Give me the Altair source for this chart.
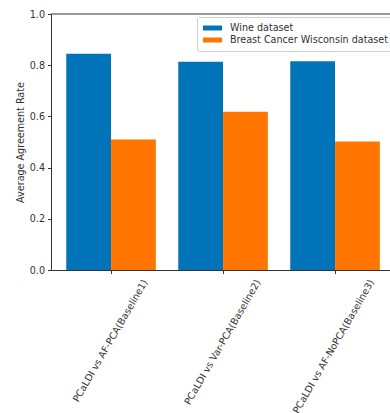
import altair as alt
import pandas as pd

# Comparison pairs (x categories) and the two datasets (bar groups)
methods = [
    "PCaLDI vs AF-PCA(Baseline1)",
    "PCaLDI vs Var-PCA(Baseline2)",
    "PCaLDI vs AF-NoPCA(Baseline3)",
]
datasets = ["Wine dataset", "Breast Cancer Wisconsin dataset"]

# Average agreement rate per comparison
wine_rates = [0.845, 0.813, 0.815]
breast_rates = [0.510, 0.618, 0.502]

y_ticks = [0.0, 0.2, 0.4, 0.6, 0.8, 1.0]
colors = ["#0174b9", "#ff7500"]

rows = []
for m, w, b in zip(methods, wine_rates, breast_rates):
    rows.append({"method": m, "dataset": datasets[0], "rate": w})
    rows.append({"method": m, "dataset": datasets[1], "rate": b})
df = pd.DataFrame(rows)

FONT = "DejaVu Sans"
INK = "#333333"
FS = 9.6

# rotated tick labels are centred on their tick, so longer labels shift further right
label_shift = {
    "condition": [
        {"test": f"datum.value === '{methods[1]}'", "value": 31},
        {"test": f"datum.value === '{methods[2]}'", "value": 32.5},
    ],
    "value": 30,
}

y_axis = alt.Axis(
    title="Average Agreement Rate",
    values=y_ticks,
    format=".1f",
    grid=False,
    labelFont=FONT,
    labelFontSize=FS,
    labelColor=INK,
    labelPadding=3,
    tickSize=3.5,
    tickColor=INK,
    domainColor=INK,
    titleFont=FONT,
    titleFontSize=FS,
    titleFontWeight="normal",
    titleColor=INK,
    titlePadding=4,
)
y_scale = alt.Scale(domain=[0, 1], nice=False)

bars = alt.Chart(df).mark_bar().encode(
    x=alt.X(
        "method:N",
        sort=methods,
        scale=alt.Scale(paddingInner=0.2, paddingOuter=0.1134, align=0.6),
        axis=alt.Axis(
            title=None,
            labelAngle=-60,
            labelAlign="right",
            labelBaseline="top",
            labelOffset=label_shift,
            labelPadding=4,
            labelFont=FONT,
            labelFontSize=FS,
            labelColor=INK,
            labelOverlap=False,
            labelLimit=400,
            tickSize=3.5,
            tickColor=INK,
            domainColor=INK,
        ),
    ),
    xOffset=alt.XOffset(
        "dataset:N", sort=datasets, scale=alt.Scale(paddingInner=0, paddingOuter=0)
    ),
    y=alt.Y("rate:Q", scale=y_scale, axis=y_axis),
    color=alt.Color(
        "dataset:N",
        sort=datasets,
        scale=alt.Scale(domain=datasets, range=colors),
        legend=alt.Legend(
            title=None,
            orient="none",
            legendX=146,
            legendY=3,
            direction="vertical",
            # wide flat swatch: 19 x 5 px, left edge at the entry origin
            symbolType="M-1,-0.5L2.8,-0.5L2.8,0.5L-1,0.5Z",
            symbolSize=100,
            symbolStrokeWidth=0,
            labelFont=FONT,
            labelFontSize=FS,
            labelColor=INK,
            labelOffset=17,
            labelLimit=400,
            rowPadding=2,
            padding=6,
            fillColor="white",
            strokeColor="#d0d0d0",
            cornerRadius=2,
        ),
    ),
)

# top spine of the axes frame
top_edge = alt.Chart(pd.DataFrame({"rate": [1.0]})).mark_rule(
    color=INK, strokeWidth=1
).encode(y=alt.Y("rate:Q", scale=y_scale, axis=y_axis))

chart = (
    alt.layer(bars, top_edge)
    .properties(
        width=339,
        height=256,
        autosize=alt.AutoSizeParams(type="none"),
        padding={"left": 51, "top": 14, "right": 0, "bottom": 143},
        background="white",
    )
    .configure_view(stroke=None)
)

chart.save("out.html", embed_options={"renderer": "svg", "actions": False})
